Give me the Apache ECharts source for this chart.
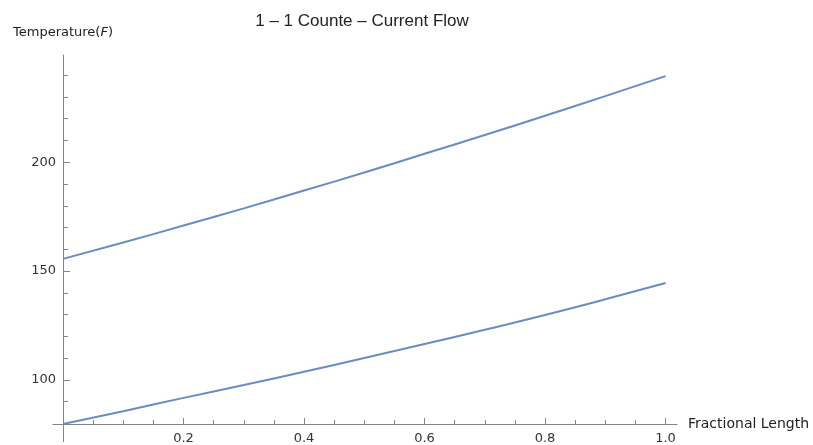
<!DOCTYPE html>
<html>
<head>
<meta charset="utf-8">
<script src="https://cdn.jsdelivr.net/npm/echarts@6/dist/echarts.min.js"></script>
<style>html,body{margin:0;padding:0;background:#fff;}#c{width:813px;height:445px;}</style>
</head>
<body>
<div id="c"></div>
<script>
const xValues = [0, 0.1, 0.2, 0.3, 0.4, 0.5, 0.6, 0.7, 0.8, 0.9, 1.0];
const upperTemp = [155.6, 163.1, 170.9, 178.8, 187.0, 195.3, 203.9, 212.5, 221.4, 230.4, 239.6];
const lowerTemp = [79.7, 85.6, 91.7, 97.6, 103.7, 110.0, 116.5, 123.0, 129.8, 137.0, 144.5];
const xMajorTicks = [0.2, 0.4, 0.6, 0.8, 1.0];
const xMinorTicks = [0.05, 0.1, 0.15, 0.25, 0.3, 0.35, 0.45, 0.5, 0.55, 0.65, 0.7, 0.75, 0.85, 0.9, 0.95];
const yMajorTicks = [100, 150, 200];
const yMinorTicks = [90, 110, 120, 130, 140, 160, 170, 180, 190, 210, 220, 230, 240];
const xRange = [0, 1.019];
const yRange = [79.7, 249.3];

const axisColor = '#858585';
const labelStyle = { color: '#333', fontFamily: 'DejaVu Sans', fontSize: 13 };
const chart = echarts.init(document.getElementById('c'));
function pts(ys) { return xValues.map((x, i) => [x, ys[i]]); }

const option = {
  animation: false,
  title: {
    text: '1 \u2013 1 Counte \u2013 Current Flow',
    left: 357, top: 8, textAlign: 'center',
    textStyle: { fontFamily: 'Liberation Sans', fontSize: 17, fontWeight: 'normal', color: '#222' }
  },
  grid: { left: 63, right: 136, top: 55, bottom: 21 },
  xAxis: [
    {
      type: 'value', min: xRange[0], max: xRange[1], position: 'bottom',
      axisLine: { show: true, lineStyle: { color: axisColor, width: 1 } },
      axisTick: { show: true, inside: true, length: 4, customValues: xMinorTicks, lineStyle: { color: axisColor } },
      axisLabel: { show: false },
      splitLine: { show: false }
    },
    {
      type: 'value', min: xRange[0], max: xRange[1], position: 'bottom',
      axisLine: { show: false },
      axisTick: { show: true, inside: true, length: 6, customValues: xMajorTicks, lineStyle: { color: axisColor } },
      axisLabel: { show: true, customValues: xMajorTicks, margin: 8, formatter: v => v.toFixed(1), ...labelStyle },
      splitLine: { show: false },
      name: 'Fractional Length', nameLocation: 'end', nameGap: 11,
      nameTextStyle: { fontFamily: 'DejaVu Sans', fontSize: 14, color: '#222', align: 'left', verticalAlign: 'middle' }
    }
  ],
  yAxis: [
    {
      type: 'value', min: yRange[0], max: yRange[1], position: 'left',
      axisLine: { show: true, onZero: false, lineStyle: { color: axisColor, width: 1 } },
      axisTick: { show: true, inside: true, length: 5, customValues: yMinorTicks, lineStyle: { color: axisColor } },
      axisLabel: { show: false },
      splitLine: { show: false }
    },
    {
      type: 'value', min: yRange[0], max: yRange[1], position: 'left',
      axisLine: { show: false, onZero: false },
      axisTick: { show: true, inside: true, length: 7, customValues: yMajorTicks, lineStyle: { color: axisColor } },
      axisLabel: { show: true, customValues: yMajorTicks, margin: 7, ...labelStyle },
      splitLine: { show: false },
      name: '{t|Temperature(}{i|F}{t|)}', nameLocation: 'end', nameGap: 16,
      nameTextStyle: {
        align: 'center', verticalAlign: 'bottom',
        rich: {
          t: { fontFamily: 'DejaVu Sans', fontSize: 13, color: '#222' },
          i: { fontFamily: 'DejaVu Sans', fontSize: 13, fontStyle: 'italic', color: '#222' }
        }
      }
    }
  ],
  series: [
    { type: 'line', data: pts(upperTemp), smooth: true, symbol: 'none', lineStyle: { color: '#6a8cc2', width: 2 } },
    { type: 'line', data: pts(lowerTemp), smooth: true, symbol: 'none', lineStyle: { color: '#6a8cc2', width: 2 } }
  ]
};
chart.setOption(option);

const o = chart.convertToPixel({ gridIndex: 0 }, [xRange[0], yRange[0]]);
chart.setOption({
  graphic: [
    { type: 'line', shape: { x1: o[0] - 10.5, y1: o[1] + 0.5, x2: o[0], y2: o[1] + 0.5 }, style: { stroke: axisColor, lineWidth: 1 }, silent: true },
    { type: 'line', shape: { x1: o[0] + 0.5, y1: o[1], x2: o[0] + 0.5, y2: o[1] + 18 }, style: { stroke: axisColor, lineWidth: 1 }, silent: true }
  ]
});
</script>
</body>
</html>
